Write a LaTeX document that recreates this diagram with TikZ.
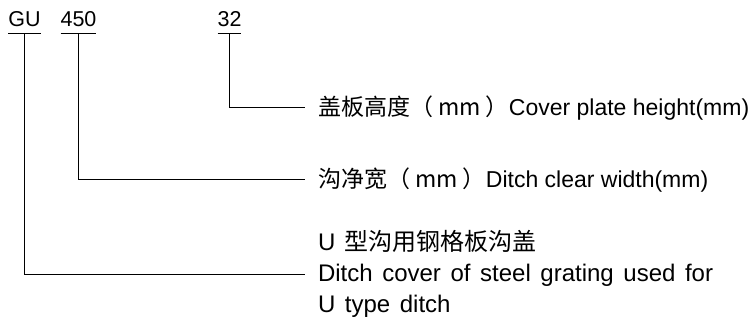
\documentclass[tikz,border=0pt]{standalone}
\usepackage{fontspec}
\setmainfont{Liberation Sans}
\newfontfamily\cjk{Noto Sans CJK SC}
\usepackage{tikz}
\usetikzlibrary{calc, positioning}

\newcommand\loosewords{\spaceskip=0.4em\relax}

\tikzset{
    code/.style={font=\fontsize{21.5}{25}\selectfont, inner xsep=0pt, inner ysep=0pt,
        text depth=0pt, outer sep=0pt, anchor=base},
    desc/.style={font=\fontsize{23}{31}\selectfont, inner xsep=13pt, inner ysep=0pt,
        outer sep=0pt, anchor=west, align=left},
    lead/.style={black, line width=0.9pt}
}

\begin{document}
\begin{tikzpicture}[x=1pt, y=-1pt]
                \useasboundingbox (0,0) rectangle (754,324);
                % designation code
                \node[code] (gu) at (24.5,26) {GU};
                \node[code] (width) at (78.5,26) {450};
                \node[code] (height) at (229.5,26) {32};
                \coordinate (gubar) at ($(gu.base)+(0,7)$);
                \coordinate (widthbar) at ($(width.base)+(0,7)$);
                \coordinate (heightbar) at ($(height.base)+(0,7)$);
                % meanings
                \node[desc, text height=21pt, text depth=4pt] (hgtdesc) at (305,107)
                    {{\cjk 盖板高度（ mm ）}Cover plate height(mm)};
                \node[desc, text height=21pt, text depth=4pt] (wdtdesc) at (305,179)
                    {{\cjk 沟净宽（ mm ）}Ditch clear width(mm)};
                \node[desc, font=\fontsize{24}{31}\selectfont\loosewords] (gudesc) at (305,274)
                    {U {\cjk 型沟用钢格板沟盖}\\Ditch cover of steel grating used for\\U type ditch};
                % underlines and leaders
                \draw[lead] (gubar -| gu.west) -- (gubar -| gu.east);
                \draw[lead] (widthbar -| width.west) -- (widthbar -| width.east);
                \draw[lead] (heightbar -| height.west) -- (heightbar -| height.east);
                \draw[lead] (heightbar) |- (hgtdesc.west);
                \draw[lead] (widthbar) |- (wdtdesc.west);
                \draw[lead] (gubar) |- (gudesc.west);
            \end{tikzpicture}
\end{document}
